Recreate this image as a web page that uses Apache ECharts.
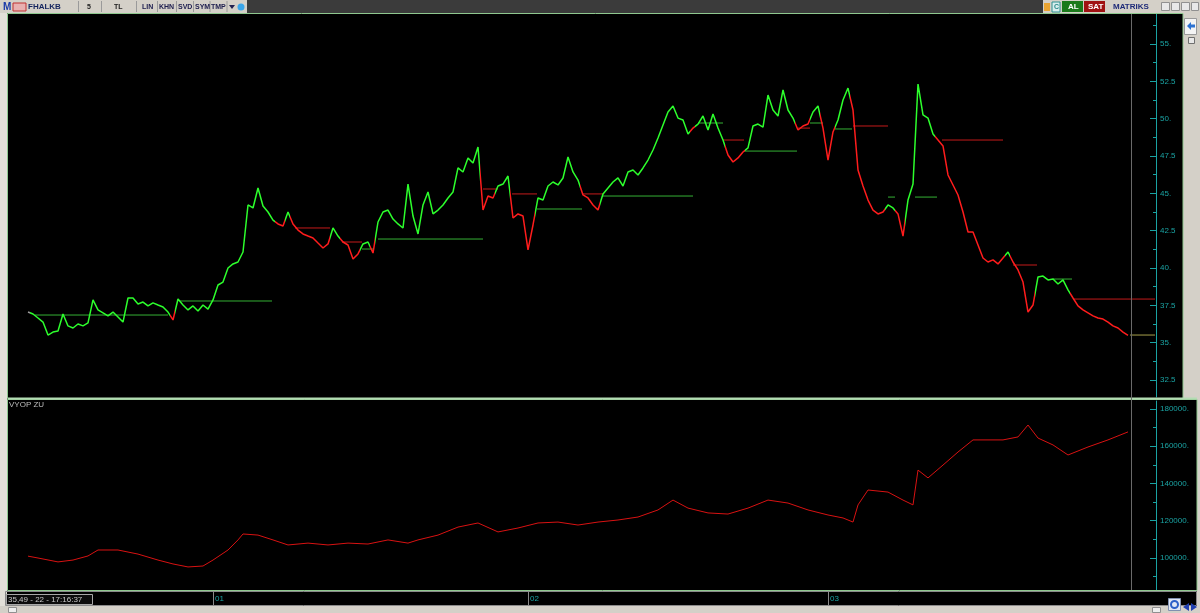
<!DOCTYPE html>
<html>
<head>
<meta charset="utf-8">
<title>FHALKB</title>
<script src="https://cdn.jsdelivr.net/npm/echarts@6/dist/echarts.min.js"></script>
<style>
  html, body { margin: 0; padding: 0; background: #000; }
  #chart { width: 1200px; height: 613px; }
</style>
</head>
<body>
<div id="chart"></div>
<script>
// fiyat serisi (bar sırası ile)
const prices = [
  37.05, 36.92, 36.65, 36.38, 35.51, 35.71, 35.78, 36.92, 36.12, 35.98,
  36.25, 36.12, 36.32, 37.86, 37.19, 36.99, 36.79, 37.05, 36.72, 36.38,
  37.99, 37.99, 37.59, 37.72, 37.46, 37.66, 37.52, 37.39, 37.05, 36.52,
  37.92, 37.52, 37.19, 37.46, 37.12, 37.52, 37.25, 37.86, 38.86, 39.06,
  40.00, 40.27, 40.40, 41.07, 44.22, 44.02, 45.36, 44.15, 43.75, 43.21,
  42.95, 42.81, 43.75, 42.95, 42.54, 42.28, 42.14, 42.01, 41.67, 41.34,
  41.61, 42.68, 42.14, 41.74, 41.54, 40.60, 40.94, 41.61, 41.74, 41.00,
  43.08, 43.75, 43.88, 43.28, 42.95, 42.68, 45.62, 43.48, 42.28, 44.22,
  45.09, 43.62, 43.88, 44.22, 44.69, 45.09, 46.70, 46.43, 47.37, 47.03,
  48.10, 43.88, 44.82, 44.69, 45.49, 45.62, 46.16, 43.35, 43.62, 43.48,
  41.21, 42.88, 44.69, 44.55, 45.49, 45.76, 45.56, 46.03, 47.43, 46.43,
  45.89, 44.89, 44.69, 44.22, 43.88, 44.96, 45.36, 45.76, 46.03, 45.49,
  46.43, 46.56, 46.23, 46.70, 47.23, 47.90, 48.71, 49.58, 50.45, 50.85,
  50.04, 49.91, 48.97, 49.37, 49.64, 50.18, 49.24, 50.31, 49.37, 48.57,
  47.57, 47.10, 47.37, 47.77, 48.04, 49.51, 49.64, 49.44, 51.58, 50.58,
  50.18, 51.92, 50.58, 50.04, 49.24, 49.51, 49.64, 50.45, 50.85, 49.37,
  47.23, 49.11, 49.91, 51.25, 52.05, 50.58, 46.56, 45.49, 44.55, 43.88,
  43.62, 43.75, 44.22, 44.02, 43.62, 42.14, 44.55, 45.62, 52.32, 50.25,
  50.04, 48.97, 48.57, 48.17, 46.23, 45.56, 44.89, 43.75, 42.41, 42.41,
  41.54, 40.67, 40.40, 40.54, 40.27, 40.67, 41.07, 40.40, 39.87, 39.06,
  37.05, 37.52, 39.40, 39.46, 39.20, 39.26, 38.93, 39.20, 38.53, 37.99,
  37.46, 37.19, 36.99, 36.79, 36.65, 36.58, 36.38, 36.12, 35.98, 35.71,
  35.49
];

// trend başlangıçları: [bar, yön]  1 yukarı, -1 aşağı, 0 belirsiz
const trendStarts = [
  [0, 0], [1, 1], [29, -1], [30, 1], [50, -1], [52, 1], [53, -1], [61, 1],
  [63, -1], [67, 1], [69, -1], [70, 1], [91, -1], [94, 1], [97, -1], [102, 1],
  [111, -1], [115, 1], [133, -1], [134, 1], [140, -1], [144, 1], [154, -1],
  [157, 1], [159, -1], [162, 1], [165, -1], [172, 1], [174, -1], [176, 1],
  [182, -1], [196, 1], [197, -1], [202, 1], [209, -1]
];

// stop seviyeleri: [başlangıç, bitiş, seviye, yön]
const stopLines = [
  [1.4, 28, 36.85, 1], [30.4, 48.8, 37.79, 1], [53.4, 60.4, 42.68, -1],
  [62.8, 66.8, 41.74, -1], [66.8, 69, 41.27, 1], [70, 91, 41.94, 1],
  [91, 94, 45.29, -1], [96.8, 101.8, 44.96, -1], [101.8, 110.8, 43.95, 1],
  [110.8, 115, 44.96, -1], [115, 133, 44.82, 1], [134, 139, 49.71, 1],
  [139, 143.2, 48.57, -1], [143.2, 153.8, 47.83, 1], [154, 156.4, 49.37, -1],
  [156.4, 159, 49.71, 1], [161.4, 164.8, 49.31, 1], [165, 172, 49.51, -1],
  [172, 173.4, 44.75, 1], [177.4, 181.8, 44.75, 1], [182.8, 195, 48.57, -1],
  [197, 201.8, 40.20, -1], [205, 208.8, 39.26, 1], [209, 225.4, 37.92, -1],
  [220.4, 225.4, 35.51, 0]
];

// VYOP ZU göstergesi
const volIdx = [
  0, 2, 6, 9, 12, 14, 18, 22, 26, 29, 32, 35, 37, 40, 42, 43, 46, 49, 52, 56,
  60, 64, 68, 72, 76, 78, 82, 86, 90, 94, 98, 102, 106, 110, 114, 118, 122, 126, 129, 132,
  136, 140, 144, 148, 152, 156, 160, 163, 165, 166, 168, 172, 175, 177, 178, 180, 183, 186, 189, 192,
  195, 198, 200, 202, 205, 208, 212, 216, 220
];
const volValues = [
  101000, 100000, 97900, 98900, 101100, 104300, 104300, 102100, 98900, 96800,
  95200, 95700, 98900, 104300, 109700, 112900, 112300, 109700, 107000, 108000,
  107000, 108000, 107500, 109700, 108000, 109700, 112300, 116600, 118800, 114000,
  116100, 118800, 119300, 117700, 119300, 120400, 122000, 125800, 131100, 126800,
  124200, 123600, 126800, 131100, 129500, 125800, 123100, 121500, 119300, 128500,
  136500, 135400, 131100, 128500, 147200, 143000, 149900, 156900, 163400, 163400,
  163400, 165000, 171400, 164400, 160700, 155300, 159600, 163400, 167700
];

const dateTicks = [37, 100, 160];
const dateLabels = ["01", "02", "03"];
const priceTicks = [32.5, 35, 37.5, 40, 42.5, 45, 47.5, 50, 52.5, 55];
const priceMinorTicks = [33.75, 36.25, 38.75, 41.25, 43.75, 46.25, 48.75, 51.25, 53.75, 56.25];
const volTicks = [100000, 120000, 140000, 160000, 180000];
const volMinorTicks = [90000, 110000, 130000, 150000, 170000];

const UP = "#2cff2c";
const DOWN = "#ff1c1c";
const AXIS = "#1aa3a3";
const STOP = { "1": "#34b034", "-1": "#c41a1a", "0": "#a8a04c" };
const FONT = '"Liberation Sans", sans-serif';

const trendColor = t => (t === 1 ? UP : t === -1 ? DOWN : "#9a9a9a");

const pieces = trendStarts.map((s, k) => {
  const p = { color: trendColor(s[1]) };
  if (k > 0) p.gte = s[0] - 0.5;
  if (k < trendStarts.length - 1) p.lt = trendStarts[k + 1][0] - 0.5;
  return p;
});

const stopSeries = stopLines.map(s => ({
  type: "line",
  xAxisIndex: 0,
  yAxisIndex: 0,
  data: [[s[0], s[2]], [s[1], s[2]]],
  showSymbol: false,
  silent: true,
  z: 1,
  lineStyle: { color: STOP[String(s[3])], width: 1 },
}));

const priceFmt = v => (Number.isInteger(v) ? v + "." : String(v));

const valueAxisX = (gridIndex, extra) => ({
  type: "value",
  gridIndex,
  min: -4,
  max: 225.6,
  show: false,
  ...extra,
});

const rightAxis = (gridIndex, min, max, ticks, len, labels, fmt) => ({
  type: "value",
  gridIndex,
  position: "right",
  min,
  max,
  axisLine: { show: !!labels, onZero: false, lineStyle: { color: AXIS, width: 1 } },
  axisTick: { show: true, inside: true, length: len, customValues: ticks, lineStyle: { color: AXIS } },
  axisLabel: labels
    ? { show: true, customValues: ticks, color: AXIS, fontSize: 8, fontFamily: FONT, margin: 4, formatter: fmt }
    : { show: false },
  splitLine: { show: false },
});

// ekran çerçevesi
const T = (text, x, y, fill, font) => ({
  type: "text", z: 100, style: { text, x, y, fill, font, textVerticalAlign: "middle" },
});
const R = (x, y, w, h, fill, stroke) => ({
  type: "rect", z: 99, shape: { x, y, width: w, height: h },
  style: { fill: fill || "none", stroke: stroke || null, lineWidth: 1 },
});
const L = (x1, y1, x2, y2, stroke, w) => ({
  type: "line", z: 99, shape: { x1, y1, x2, y2 }, style: { stroke, lineWidth: w || 1 },
});

const tbFont = "bold 7px " + FONT;
const chrome = [
  R(0, 0, 1200, 13, "#d4d0c8"),
  R(247, 0, 796, 13, "#3b3b3b"),
  R(0, 13, 7, 600, "#e2dfd8"),
  R(1183, 13, 17, 386, "#d4d0c8"),
  R(1197, 399, 3, 214, "#d4d0c8"),
  R(0, 606, 1200, 7, "#d4d0c8"),
  R(7.5, 13.5, 1175.5, 385, null, "#8fc88f"),
  R(7.5, 399.5, 1189.5, 191, null, "#8fc88f"),
  L(8, 398.5, 1197, 398.5, "#b4dcb4", 2),
  R(5.5, 591.5, 1191, 14, null, "#8a8a8a"),
  R(6.5, 594.5, 86, 10, "#0c0c0c", "#a8a8a8"),
  T("35,49 - 22 - 17:16:37", 8, 600, "#c8c8c8", "8px " + FONT),
  L(1131.5, 14, 1131.5, 590, "#6a6a6a"),
  T("VYOP ZU", 9, 405, "#bdbdbd", "8px " + FONT),
  // üst araç çubuğu
  T("M", 3, 7, "#1a3aa8", "bold 10px " + FONT),
  R(13, 3, 13, 8, "#e8b0b0", "#c03030"),
  T("FHALKB", 28, 7, "#14245e", "bold 8px " + FONT),
  T("5", 87, 7, "#202020", tbFont),
  T("TL", 114, 7, "#202020", tbFont),
  T("LIN", 142, 7, "#202050", tbFont),
  T("KHN", 159, 7, "#202050", tbFont),
  T("SVD", 178, 7, "#202050", tbFont),
  T("SYM", 195, 7, "#202050", tbFont),
  T("TMP", 211, 7, "#202050", tbFont),
  { type: "polygon", z: 100, shape: { points: [[229, 5], [235, 5], [232, 9]] }, style: { fill: "#202050" } },
  { type: "circle", z: 100, shape: { cx: 241, cy: 7, r: 3.5 }, style: { fill: "#3aa6ea" } },
  L(78.5, 1, 78.5, 12, "#9a9a9a"), L(101.5, 1, 101.5, 12, "#9a9a9a"),
  L(136.5, 1, 136.5, 12, "#9a9a9a"), L(157.5, 1, 157.5, 12, "#9a9a9a"),
  L(176.5, 1, 176.5, 12, "#9a9a9a"), L(193.5, 1, 193.5, 12, "#9a9a9a"),
  L(210, 1, 210, 12, "#9a9a9a"), L(227, 1, 227, 12, "#9a9a9a"),
  R(1044, 3, 6, 8, "#eaa431"),
  R(1052, 2, 8, 10, "#d8eeee", "#2a9090"),
  T("C", 1054, 7, "#2a8a8a", tbFont),
  R(1062, 1, 21, 11, "#1b7a1b"),
  T("AL", 1068, 7, "#ffffff", "bold 8px " + FONT),
  R(1084, 1, 21, 11, "#a01212"),
  T("SAT", 1088, 7, "#ffffff", "bold 8px " + FONT),
  T("MATRIKS", 1113, 7, "#1e2a78", "bold 8px " + FONT),
  R(1161.5, 2.5, 8, 8, "#e8e8e8", "#909090"),
  R(1171.5, 2.5, 8, 8, "#e8e8e8", "#909090"),
  R(1181.5, 2.5, 8, 8, "#e8e8e8", "#909090"),
  R(1191.5, 2.5, 7, 8, "#e8e8e8", "#909090"),
  // sağ kolon
  R(1184.5, 18.5, 12, 16, "#f4f4f4", "#9a9a9a"),
  { type: "polygon", z: 100, shape: { points: [[1187, 26], [1191, 22], [1191, 24.5], [1195, 24.5], [1195, 27.5], [1191, 27.5], [1191, 30]] }, style: { fill: "#2d72d2" } },
  R(1188.5, 37.5, 6, 6, "#e8e8e8", "#707070"),
  // alt kaydırma çubuğu
  R(8.5, 607.5, 8, 5, "#eeeeee", "#909090"),
  R(1152.5, 607.5, 8, 5, "#eeeeee", "#909090"),
  R(1168.5, 598.5, 12, 12, "#dfe6f4", "#8090b0"),
  { type: "circle", z: 100, shape: { cx: 1174.5, cy: 604.5, r: 3.5 }, style: { fill: "none", stroke: "#2c5fc8", lineWidth: 2 } },
  { type: "polygon", z: 100, shape: { points: [[1183, 607], [1189, 603], [1189, 611]] }, style: { fill: "#2040b0" } },
  { type: "polygon", z: 100, shape: { points: [[1197, 607], [1191, 603], [1191, 611]] }, style: { fill: "#2040b0" } },
];

const chart = echarts.init(document.getElementById("chart"), null, { renderer: "canvas" });

chart.setOption({
  backgroundColor: "#000",
  animation: false,
  grid: [
    { left: 8, right: 44, top: 14, height: 383 },
    { left: 8, right: 44, top: 401, height: 189 },
    { left: 8, right: 44, top: 592, height: 13 },
  ],
  xAxis: [
    valueAxisX(0),
    valueAxisX(1),
    valueAxisX(2, {
      show: true,
      axisLine: { show: false },
      splitLine: { show: false },
      axisTick: { show: true, inside: true, length: 13, customValues: dateTicks, lineStyle: { color: "#8a8a8a" } },
      axisLabel: {
        show: true,
        inside: true,
        customValues: dateTicks,
        align: "left",
        margin: 2,
        padding: [0, 0, 0, 2],
        color: AXIS,
        fontSize: 8,
        fontFamily: FONT,
        formatter: v => dateLabels[dateTicks.indexOf(v)] || "",
      },
    }),
  ],
  yAxis: [
    rightAxis(0, 31.36, 57.01, priceTicks, 6, true, priceFmt),
    rightAxis(0, 31.36, 57.01, priceMinorTicks, 3, false),
    rightAxis(1, 82820, 184290, volTicks, 6, true, v => v + "."),
    rightAxis(1, 82820, 184290, volMinorTicks, 3, false),
    { type: "value", gridIndex: 2, show: false, min: 0, max: 1 },
  ],
  visualMap: {
    type: "piecewise",
    show: false,
    dimension: 0,
    seriesIndex: 0,
    pieces,
  },
  series: [
    {
      name: "FHALKB",
      type: "line",
      xAxisIndex: 0,
      yAxisIndex: 0,
      data: prices.map((v, i) => [i, v]),
      showSymbol: false,
      z: 3,
      lineStyle: { width: 1.5 },
    },
    ...stopSeries,
    {
      name: "VYOP ZU",
      type: "line",
      xAxisIndex: 1,
      yAxisIndex: 2,
      data: volIdx.map((x, i) => [x, volValues[i]]),
      showSymbol: false,
      lineStyle: { color: "#d81212", width: 1 },
    },
  ],
  graphic: chrome,
});
</script>
</body>
</html>
